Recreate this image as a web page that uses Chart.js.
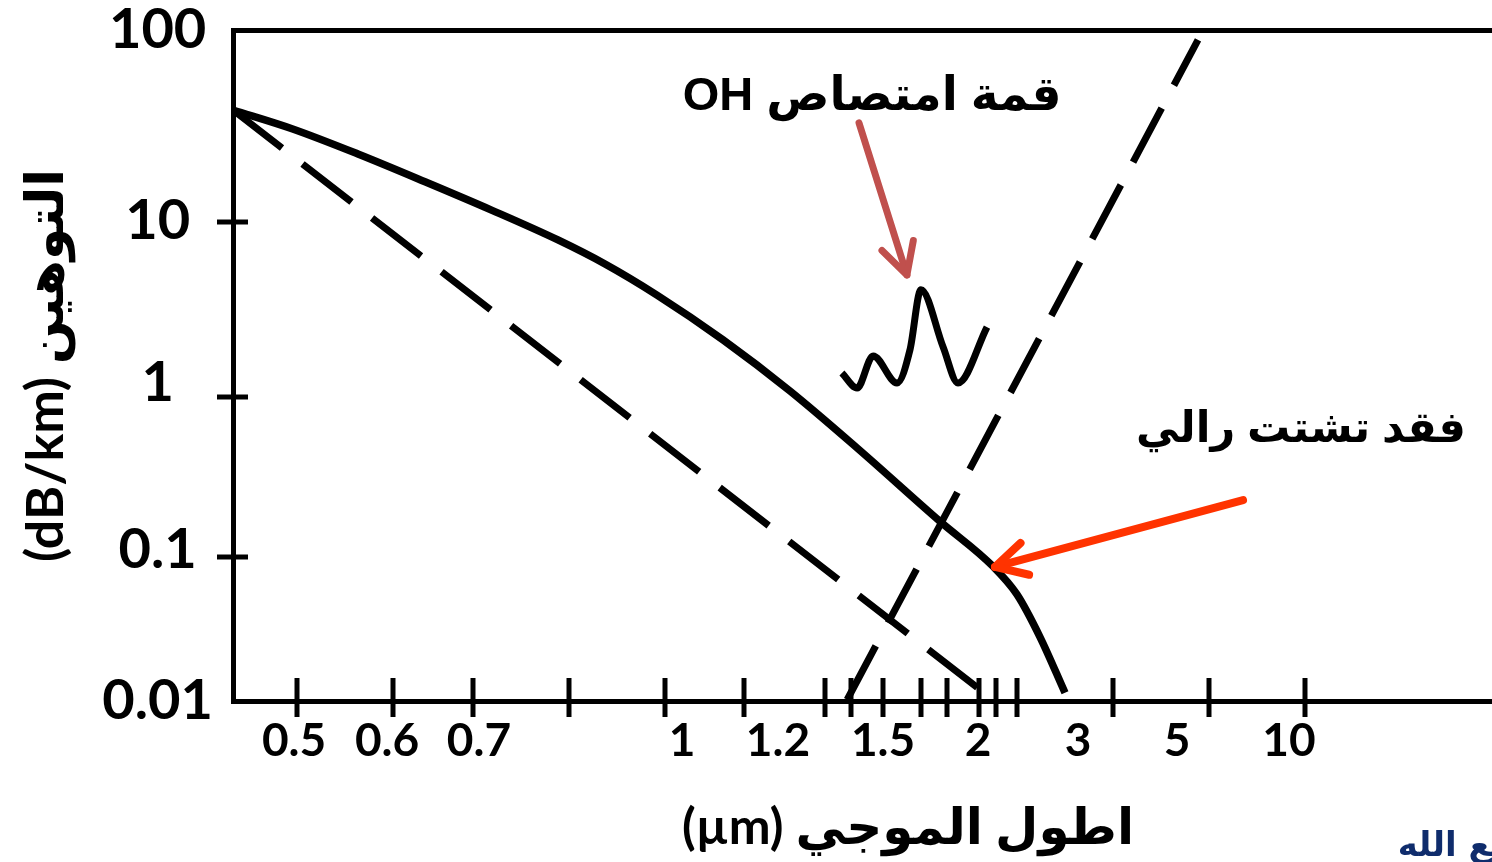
<!DOCTYPE html>
<html>
<head>
<meta charset="utf-8">
<script src="https://cdn.jsdelivr.net/npm/chart.js@4.4.1/dist/chart.umd.min.js"></script>
<style>
  html, body { margin: 0; padding: 0; overflow: hidden; background: #ffffff; width: 1492px; height: 862px; }
  #wrap { width: 1600px; height: 862px; position: relative; }
</style>
</head>
<body>
<div id="wrap"><canvas id="c" width="1600" height="862"></canvas></div>
<script>
// ------------------------- data -------------------------
// wavelength (µm) tick marks and labels
const X_TICKS  = [0.5, 0.6, 0.7, 0.8, 1, 1.2, 1.3, 1.4, 1.5, 1.6, 1.7, 2, 2.2, 2.5, 3, 5, 10];
const X_LABELS = [0.5, 0.6, 0.7, 1, 1.2, 1.5, 2, 3, 5, 10];
// attenuation (dB/km) tick marks and labels
const Y_TICKS  = [0.1, 1, 10];
const Y_LABELS = [0.01, 0.1, 1, 10, 100];

// total loss curve (solid)
const totalLossX = [0.43, 0.4945, 0.5635, 0.64, 0.7198, 0.7885, 0.875, 0.9833, 1.147, 1.257, 1.419, 1.673, 2.165, 2.5, 2.62, 2.75];
const totalLossY = [38.3, 30.6, 22.6, 16.2, 11.5, 7.89, 5.75, 3.82, 2.12, 1.08, 0.48, 0.167, 0.086, 0.055, 0.0278, 0.0114];
// Rayleigh scattering (dashed)
const rayleighX = [0.43, 2.012];
const rayleighY = [38.3, 0.012];
// infrared absorption (dashed)
const infraredX = [1.385, 4.77];
const infraredY = [0.0102, 88.8];
// OH absorption peaks
const ohPeakX = [1.365, 1.419, 1.469, 1.537, 1.571, 1.6, 1.685, 1.803, 2.094];
const ohPeakY = [1.371, 1.126, 1.715, 1.202, 1.857, 4.1, 1.93, 1.202, 2.51];

// annotations
const NOTE_TEXT = ['قمة امتصاص OH', 'فقد تشتت رالي'];
const NOTE_X = [1.466, 9.79];
const NOTE_Y = [44.8, 0.62];
const ARROW_FROM_X = [1.425, 6.77];
const ARROW_FROM_Y = [32.8, 0.227];
const ARROW_TO_X = [1.563, 2.188];
const ARROW_TO_Y = [4.98, 0.0853];
const ARROW_COLOR = ['#C0504D', '#FF3300'];

const X_TITLE = '(µm) اطول الموجي';
const Y_TITLE = '(dB/km) التوهين';
const CREDIT = 'فع الله';

// ------------------------- axis geometry (value -> fraction of plot) -------------------------
const X_ANCHORS = [[0.43,0],[0.5,0.0474],[0.6,0.1185],[0.7,0.1778],[0.8,0.2489],[1,0.32],[1.2,0.3785],[1.3,0.4385],[1.4,0.4578],[1.5,0.4815],[1.6,0.5096],[1.7,0.5289],[2,0.5526],[2.2,0.5652],[2.5,0.5807],[3,0.6519],[5,0.7230],[10,0.7941],[20,1]];
const XL_ANCHORS = [[0.43,0],[0.5,0.0452],[0.6,0.1141],[0.7,0.1822],[1,0.3326],[1.2,0.4037],[1.5,0.4815],[2,0.5519],[3,0.6259],[5,0.6993],[10,0.7822],[20,1]];
const Y_ANCHORS = [[0.01,0],[0.1,0.2146],[1,0.4531],[10,0.7139],[100,1]];
const YL_ANCHORS = [[0.01,0],[0.1,0.2250],[1,0.4739],[10,0.7154],[100,1]];

// ------------------------- custom piecewise scale -------------------------
class PiecewiseScale extends Chart.Scale {
  determineDataLimits() {
    const a = this.options.anchors;
    this.min = a[0][0];
    this.max = a[a.length - 1][0];
  }
  buildTicks() {
    return (this.options.tickValues || []).map(v => ({ value: v }));
  }
  getLabelForValue(v) { return String(v); }
  _t(v) { return this.options.logInterp ? Math.log10(v) : v; }
  _decimalFor(value) {
    const a = this.options.anchors;
    let i = 0;
    while (i < a.length - 2 && value > a[i + 1][0]) i++;
    const t0 = this._t(a[i][0]), t1 = this._t(a[i + 1][0]);
    return a[i][1] + (this._t(value) - t0) / (t1 - t0) * (a[i + 1][1] - a[i][1]);
  }
  getPixelForValue(value) { return this.getPixelForDecimal(this._decimalFor(value)); }
  getPixelForTick(index) { return this.getPixelForValue(this.ticks[index].value); }
  getValueForPixel(pixel) {
    const d = this.getDecimalForPixel(pixel);
    const a = this.options.anchors;
    let i = 0;
    while (i < a.length - 2 && d > a[i + 1][1]) i++;
    const t0 = this._t(a[i][0]), t1 = this._t(a[i + 1][0]);
    const t = t0 + (d - a[i][1]) / (a[i + 1][1] - a[i][1]) * (t1 - t0);
    return this.options.logInterp ? Math.pow(10, t) : t;
  }
}
PiecewiseScale.id = 'piecewise';
PiecewiseScale.defaults = {};
Chart.register(PiecewiseScale);

// ------------------------- plugins -------------------------
const tickMarks = {
  id: 'tickMarks',
  beforeDatasetsDraw(chart, args, o) {
    const ctx = chart.ctx, ca = chart.chartArea;
    ctx.save();
    ctx.strokeStyle = '#000';
    ctx.lineWidth = o.width;
    ctx.lineCap = 'butt';
    const xs = chart.scales.x;
    xs.ticks.forEach(t => {
      const px = Math.round(xs.getPixelForValue(t.value));
      ctx.beginPath(); ctx.moveTo(px, ca.bottom - o.xIn); ctx.lineTo(px, ca.bottom + o.xOut); ctx.stroke();
    });
    const ys = chart.scales.y;
    ys.ticks.forEach(t => {
      const py = Math.round(ys.getPixelForValue(t.value));
      ctx.beginPath(); ctx.moveTo(ca.left - o.yOut, py); ctx.lineTo(ca.left + o.yIn, py); ctx.stroke();
    });
    ctx.restore();
  }
};

const annotations = {
  id: 'annotations',
  afterDatasetsDraw(chart, args, o) {
    const ctx = chart.ctx;
    const xs = chart.scales.x, ys = chart.scales.y;
    ctx.save();
    // arrows
    ARROW_FROM_X.forEach((fx, i) => {
      const x0 = xs.getPixelForValue(fx), y0 = ys.getPixelForValue(ARROW_FROM_Y[i]);
      const x1 = xs.getPixelForValue(ARROW_TO_X[i]), y1 = ys.getPixelForValue(ARROW_TO_Y[i]);
      ctx.strokeStyle = ARROW_COLOR[i];
      ctx.lineWidth = o.arrowWidth[i];
      ctx.lineCap = 'round';
      ctx.lineJoin = 'round';
      ctx.beginPath(); ctx.moveTo(x0, y0); ctx.lineTo(x1, y1); ctx.stroke();
      const ang = Math.atan2(y0 - y1, x0 - x1);
      const L = o.headLen, A = o.headAngle * Math.PI / 180;
      ctx.beginPath();
      ctx.moveTo(x1 + L * Math.cos(ang + A), y1 + L * Math.sin(ang + A));
      ctx.lineTo(x1, y1);
      ctx.lineTo(x1 + L * Math.cos(ang - A), y1 + L * Math.sin(ang - A));
      ctx.stroke();
    });
    // notes
    ctx.fillStyle = '#000';
    ctx.direction = 'rtl';
    ctx.textAlign = 'center';
    ctx.textBaseline = 'middle';
    NOTE_TEXT.forEach((txt, i) => {
      ctx.font = o.noteFont[i];
      ctx.fillText(txt, xs.getPixelForValue(NOTE_X[i]), ys.getPixelForValue(NOTE_Y[i]));
    });
    // cropped credit text at the bottom-right edge
    ctx.font = o.creditFont;
    ctx.fillStyle = '#0F2C6C';
    ctx.textAlign = 'right';
    ctx.textBaseline = 'alphabetic';
    ctx.fillText(CREDIT, 1514, 856);
    ctx.restore();
  }
};

// ------------------------- chart -------------------------
const LATIN = "Lato, 'DejaVu Sans', sans-serif";
const NOTE_FONT = "'Liberation Sans', 'DejaVu Sans', sans-serif";
const pts = (xs, ys) => xs.map((x, i) => ({ x, y: ys[i] }));
const lineBase = { borderColor: '#000', pointRadius: 0, fill: false, clip: false, borderCapStyle: 'butt' };

new Chart(document.getElementById('c'), {
  type: 'line',
  data: {
    datasets: [
      Object.assign({ label: 'total', data: pts(totalLossX, totalLossY), borderWidth: 7.5, cubicInterpolationMode: 'monotone' }, lineBase),
      Object.assign({ label: 'rayleigh', data: pts(rayleighX, rayleighY), borderWidth: 7, borderDash: [62, 26] }, lineBase),
      Object.assign({ label: 'infrared', data: pts(infraredX, infraredY), borderWidth: 7, borderDash: [61, 26] }, lineBase),
      Object.assign({ label: 'oh', data: pts(ohPeakX, ohPeakY), borderWidth: 7, cubicInterpolationMode: 'monotone' }, lineBase)
    ]
  },
  options: {
    responsive: false,
    animation: false,
    events: [],
    layout: { padding: { top: 30, right: 17, bottom: 0, left: 0 } },
    plugins: {
      legend: { display: false },
      tooltip: { enabled: false },
      tickMarks: { width: 5, xIn: 23, xOut: 16, yIn: 15, yOut: 16 },
      annotations: {
        arrowWidth: [7, 8], headLen: 35, headAngle: 28,
        noteFont: ["bold 47px " + NOTE_FONT, "bold 43px " + NOTE_FONT],
        creditFont: "bold 34px 'DejaVu Sans', sans-serif"
      }
    },
    scales: {
      x: {
        type: 'piecewise', axis: 'x', position: 'bottom', weight: 0,
        anchors: X_ANCHORS, tickValues: X_TICKS,
        grid: { display: false, drawTicks: false },
        border: { display: true, width: 5, color: '#000' },
        ticks: { display: false },
        afterFit: s => { s.height = 0; }
      },
      xl: {
        type: 'piecewise', axis: 'x', position: 'bottom', weight: 1,
        anchors: XL_ANCHORS, tickValues: X_LABELS,
        grid: { display: false, drawTicks: false },
        border: { display: false },
        ticks: { autoSkip: false, maxRotation: 0, minRotation: 0, padding: 17, color: '#000',
                 font: { family: LATIN, size: 46, weight: 'bold', lineHeight: 1 } },
        title: { display: true, text: X_TITLE, color: '#000', padding: { top: 0, bottom: 4 },
                 font: { family: LATIN, size: 50, weight: 'bold', lineHeight: 1.2 } },
        afterFit: s => { s.height = 161; s.paddingLeft = 0; s.paddingRight = 0; }
      },
      xt: {
        type: 'piecewise', axis: 'x', position: 'top',
        anchors: X_ANCHORS, tickValues: [],
        grid: { display: false, drawTicks: false },
        border: { display: true, width: 5, color: '#000' },
        ticks: { display: false },
        afterFit: s => { s.height = 0; }
      },
      y: {
        type: 'piecewise', axis: 'y', position: 'left', weight: 0,
        anchors: Y_ANCHORS, logInterp: true, tickValues: Y_TICKS,
        grid: { display: false, drawTicks: false },
        border: { display: true, width: 5, color: '#000' },
        ticks: { display: false },
        afterFit: s => { s.width = 0; s.paddingTop = 0; s.paddingBottom = 0; }
      },
      yl: {
        type: 'piecewise', axis: 'y', position: 'left', weight: 1,
        anchors: YL_ANCHORS, logInterp: true, tickValues: Y_LABELS,
        grid: { display: false, drawTicks: false },
        border: { display: false },
        ticks: { autoSkip: false, crossAlign: 'center', padding: 20, color: '#000',
                 font: { family: LATIN, size: 56, weight: 'bold', lineHeight: 1 } },
        title: { display: true, text: Y_TITLE, color: '#000', padding: { top: 15, bottom: 0 },
                 font: { family: LATIN, size: 52, weight: 'bold', lineHeight: 1.2 } },
        afterFit: s => { s.width = 233; s.paddingTop = 0; s.paddingBottom = 0; }
      }
    }
  },
  plugins: [tickMarks, annotations]
});
</script>
</body>
</html>
